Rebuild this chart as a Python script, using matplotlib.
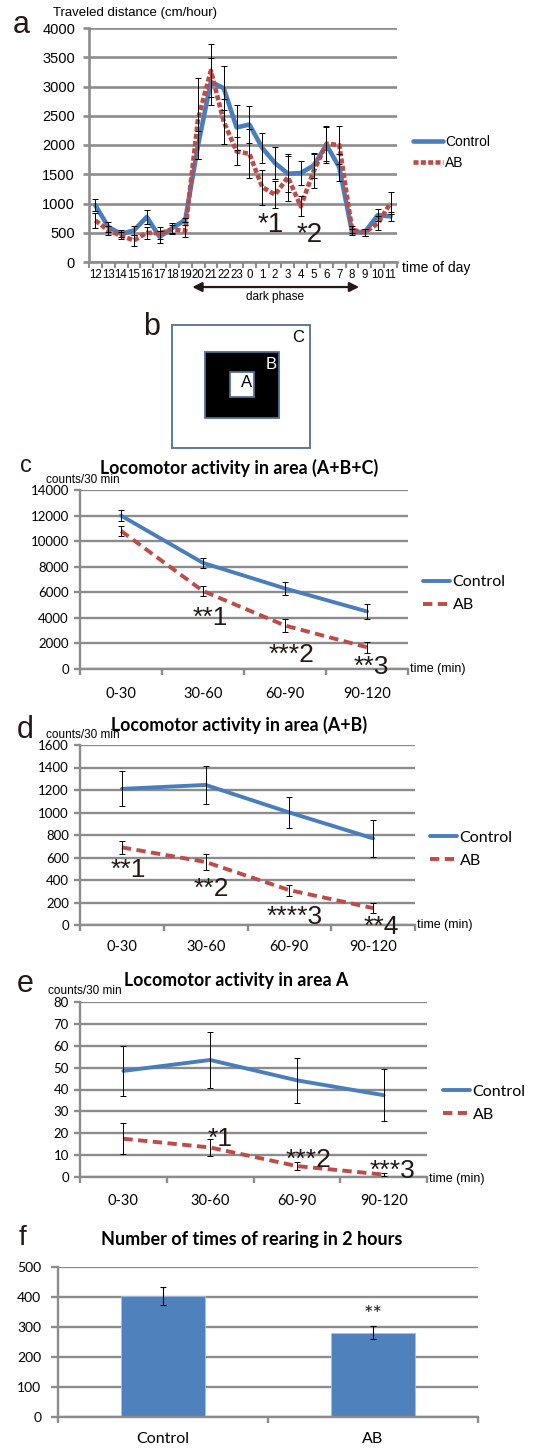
import matplotlib.pyplot as plt
from matplotlib.patches import Rectangle

W, H = 533, 1450
BLUE = '#4a7ebb'
RED = '#be4b48'
GRID = '#8c8c8c'
BAR = '#4f81bd'
SANS = 'Liberation Sans'
CAL = 'Lato'

# (a) traveled distance per hour of day
hours = ['12', '13', '14', '15', '16', '17', '18', '19', '20', '21', '22', '23',
         '0', '1', '2', '3', '4', '5', '6', '7', '8', '9', '10', '11']
ctrl_a = [970, 600, 480, 540, 770, 430, 580, 720, 2000, 3080, 2970, 2300,
          2350, 1950, 1690, 1510, 1520, 1650, 2000, 1620, 510, 510, 800, 780]
ctrl_a_err = [100, 80, 60, 80, 120, 100, 80, 40, 240, 400, 380, 380,
              320, 250, 270, 310, 200, 220, 310, 230, 50, 60, 100, 80]
ab_a = [710, 540, 450, 370, 500, 490, 560, 530, 2450, 3270, 2400, 1890,
        1850, 1280, 1150, 1450, 950, 1550, 2020, 2000, 550, 505, 660, 1010]
ab_a_err = [130, 70, 60, 100, 100, 100, 80, 100, 690, 450, 380, 240,
            420, 300, 230, 400, 170, 290, 300, 330, 60, 60, 120, 190]

# (c)-(e) locomotor activity per 30 min
periods = ['0-30', '30-60', '60-90', '90-120']
ctrl_c = [12000, 8300, 6300, 4500]
ctrl_c_err = [450, 400, 480, 600]
ab_c = [10800, 6100, 3400, 1700]
ab_c_err = [400, 400, 500, 420]

ctrl_d = [1210, 1245, 1000, 770]
ctrl_d_err = [155, 170, 135, 165]
ab_d = [690, 560, 310, 150]
ab_d_err = [55, 70, 50, 45]

ctrl_e = [48.5, 53.5, 44.2, 37.4]
ctrl_e_err = [11.5, 13, 10.3, 11.8]
ab_e = [17.5, 13.5, 5.0, 1.1]
ab_e_err = [7, 4, 2, 0.8]

# (f) rearing
groups = ['Control', 'AB']
rearing = [405, 281]
rearing_err = [30, 22]


def rect(l, t, r, b):
    return [l / W, 1 - b / H, (r - l) / W, (b - t) / H]


def style(ax, glw, yfont, ysize, ypad):
    for s in ['top', 'right']:
        ax.spines[s].set_visible(False)
    for s in ['left', 'bottom']:
        ax.spines[s].set_color(GRID)
        ax.spines[s].set_linewidth(glw)
    ax.grid(axis='y', color=GRID, lw=glw)
    ax.set_axisbelow(True)
    ax.tick_params(axis='y', length=4, width=glw, color=GRID, pad=ypad, labelsize=ysize)
    for t in ax.get_yticklabels():
        t.set_family(yfont)


def cat_axis(ax, labels, size, font, pad, glw):
    n = len(labels)
    ax.set_xlim(-0.5, n - 0.5)
    ax.set_xticks([i - 0.5 for i in range(n + 1)])
    ax.set_xticklabels([])
    ax.set_xticks(range(n), minor=True)
    ax.set_xticklabels(labels, minor=True, fontsize=size, family=font)
    ax.tick_params(axis='x', which='major', length=4, width=glw, color=GRID)
    ax.tick_params(axis='x', which='minor', length=0, pad=pad)


def lines(ax, ctrl, ctrl_err, ab, ab_err, lw, dash):
    x = range(len(ctrl))
    ax.plot(x, ctrl, color=BLUE, lw=lw, solid_capstyle='round', label='Control', zorder=3)
    ax.plot(x, ab, color=RED, lw=lw, ls=dash, label='AB', zorder=3)
    for v, e in [(ctrl, ctrl_err), (ab, ab_err)]:
        ax.errorbar(x, v, yerr=e, fmt='none', ecolor='black', elinewidth=0.7,
                    capsize=2, capthick=0.7, zorder=4)


def legend(ax, x, y, size, hl):
    ax.legend(loc='center left', bbox_to_anchor=(x, y), frameon=False, borderpad=0,
              borderaxespad=0, handlelength=hl, handletextpad=0.15, labelspacing=0.55,
              prop={'family': CAL if size > 10.5 else SANS, 'size': size})


def stars(ax, items, size=19):
    for txt, x, y in items:
        ax.text(x, y, txt, fontsize=size, family=SANS, ha='left', va='baseline',
                color='#231815', zorder=5)


fig = plt.figure(figsize=(W / 100, H / 100), dpi=100)

# ---------- a ----------
ax = fig.add_axes(rect(89, 28, 397, 262))
lines(ax, ctrl_a, ctrl_a_err, ab_a, ab_a_err, 3.3, (0, (1.1, 0.5)))
ax.set_ylim(0, 4000)
ax.set_yticks(range(0, 4001, 500))
style(ax, 1.9, SANS, 10.5, 6)
cat_axis(ax, hours, 8.3, ['Liberation Sans Narrow', SANS], 5, 1.5)
legend(ax, 1.052, 0.468, 10, 2.15)
ax.text(1.015, -0.025, 'time of day', transform=ax.transAxes, fontsize=10,
        family=SANS, va='center', ha='left')
ax.annotate('', xy=(7.55, -0.107), xytext=(20.55, -0.107),
            xycoords=('data', 'axes fraction'), textcoords=('data', 'axes fraction'),
            arrowprops=dict(arrowstyle='<|-|>', color='#231815', lw=1.6,
                            mutation_scale=14, shrinkA=0, shrinkB=0), annotation_clip=False)
ax.text(14.0, -0.15, 'dark phase', transform=ax.get_xaxis_transform(), fontsize=8.5,
        family=SANS, ha='center', va='center')
stars(ax, [('*1', 12.67, 513), ('*2', 15.7, 342)], 20)

# ---------- c ----------
ax = fig.add_axes(rect(80, 490, 408, 669))
lines(ax, ctrl_c, ctrl_c_err, ab_c, ab_c_err, 2.8, (0, (2.4, 1.4)))
ax.set_ylim(0, 14000)
ax.set_yticks(range(0, 14001, 2000))
style(ax, 1.7, CAL, 9.5, 4)
cat_axis(ax, periods, 10.5, CAL, 13, 1.7)
legend(ax, 1.046, 0.42, 11.5, 1.7)
ax.text(1.005, 0, 'time (min)', transform=ax.transAxes, fontsize=9, family=SANS,
        va='center', ha='left')
stars(ax, [('**1', 0.878, 3441), ('***2', 1.80, 547), ('**3', 2.84, -391)])

# ---------- d ----------
ax = fig.add_axes(rect(80, 745, 415, 925))
lines(ax, ctrl_d, ctrl_d_err, ab_d, ab_d_err, 2.8, (0, (2.4, 1.4)))
ax.set_ylim(0, 1600)
ax.set_yticks(range(0, 1601, 200))
style(ax, 1.7, CAL, 9.5, 4)
cat_axis(ax, periods, 10.5, CAL, 11, 1.7)
legend(ax, 1.045, 0.422, 11.5, 1.7)
ax.text(1.005, 0, 'time (min)', transform=ax.transAxes, fontsize=9, family=SANS,
        va='center', ha='left')
stars(ax, [('**1', -0.14, 427), ('**2', 0.86, 258), ('****3', 1.73, 9), ('**4', 2.88, -80)])

# ---------- e ----------
ax = fig.add_axes(rect(80, 1002, 427, 1177))
lines(ax, ctrl_e, ctrl_e_err, ab_e, ab_e_err, 2.8, (0, (2.4, 1.4)))
ax.set_ylim(0, 80)
ax.set_yticks(range(0, 81, 10))
style(ax, 1.7, CAL, 9.5, 4)
cat_axis(ax, periods, 10.5, CAL, 12, 1.7)
legend(ax, 1.046, 0.423, 11.5, 1.7)
ax.text(1.005, -0.01, 'time (min)', transform=ax.transAxes, fontsize=9, family=SANS,
        va='center', ha='left')
stars(ax, [('*1', 0.975, 14.2), ('***2', 1.875, 4.6), ('***3', 2.84, -0.5)])

# ---------- f ----------
ax = fig.add_axes(rect(58, 1267, 478, 1417))
ax.bar(range(len(groups)), rearing, width=0.4, color=BAR, edgecolor='#a7c0de', lw=0.6, zorder=2)
ax.errorbar(range(len(groups)), rearing, yerr=rearing_err, fmt='none', ecolor='black',
            elinewidth=0.8, capsize=2.5, capthick=0.8, zorder=3)
ax.set_ylim(0, 500)
ax.set_yticks(range(0, 501, 100))
style(ax, 1.7, CAL, 10, 7)
ax.tick_params(axis='y', length=5)
cat_axis(ax, groups, 11.5, CAL, 11, 1.7)
ax.annotate('**', xy=(1, rearing[1] + rearing_err[1]), xytext=(0, 1), textcoords='offset points',
            ha='center', va='bottom', fontsize=16, family=CAL, color='#231815')

# ---------- overlay: panel b, titles, letters ----------
ov = fig.add_axes([0, 0, 1, 1], facecolor='none')
ov.set_xlim(0, W)
ov.set_ylim(H, 0)
ov.axis('off')
edge = '#4f6f94'
ov.add_patch(Rectangle((172, 325), 138, 123, fill=False, ec=edge, lw=1.3))
ov.add_patch(Rectangle((205, 352), 74, 66, fc='black', ec=edge, lw=1.3))
ov.add_patch(Rectangle((230, 372), 24, 25, fc='white', ec=edge, lw=1.3))
ov.text(298, 337, 'C', fontsize=12, family=SANS, ha='center', va='center')
ov.text(271, 364, 'B', fontsize=12, family=SANS, ha='center', va='center', color='white')
ov.text(247, 382, 'A', fontsize=12, family=SANS, ha='center', va='center')

for letter, x, y, s in [('a', 13, 33, 22), ('b', 143, 335, 22), ('c', 20, 472, 17),
                        ('d', 17, 738, 22), ('e', 17, 992, 22), ('f', 19, 1245, 20)]:
    ov.text(x, y, letter, fontsize=s, family=SANS, ha='left', va='baseline', color='#231815')

ov.text(53, 13, 'Traveled distance (cm/hour)', fontsize=9.5, family=SANS, va='center')
for x, y in [(46, 480), (46, 735), (48, 991)]:
    ov.text(x, y, 'counts/30 min', fontsize=8.5, family=SANS, va='center')

for txt, x, y, s in [('Locomotor activity in area (A+B+C)', 239, 468, 12.8),
                     ('Locomotor activity in area (A+B)', 239, 725, 12.8),
                     ('Locomotor activity in area A', 236, 980, 12.8),
                     ('Number of times of rearing in 2 hours', 252, 1239, 13)]:
    ov.text(x, y, txt, fontsize=s, family=CAL, fontweight='bold', ha='center', va='center')

fig.savefig('out.png', dpi=100)
